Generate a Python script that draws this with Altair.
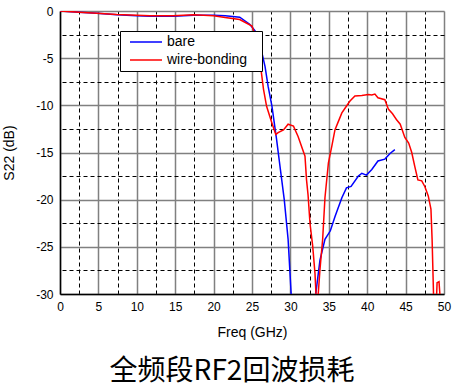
import altair as alt
import pandas as pd

series_names = ["bare", "wire-bonding"]
series_colors = ["#0000ff", "#ff0000"]

freq_bare = [0, 2.5, 4.8, 7.4, 10, 11.7, 14.75, 17.4, 20, 21.5, 23.4, 24.7, 25.4, 26.0,
             26.7, 27.1, 27.6, 28.2, 28.65, 29.2, 29.7, 30.1, 30.3, 33.1, 33.3, 33.85,
             34.5, 35.2, 35.8, 36.7, 37.3, 37.9, 38.85, 39.3, 39.9, 40.6, 41.4, 42.3,
             42.97, 43.6]
s22_bare = [0, -0.12, -0.25, -0.4, -0.5, -0.55, -0.55, -0.45, -0.45, -0.5, -0.65, -1.4,
            -2.1, -3.4, -5.9, -8.0, -10.1, -13.6, -16.5, -20, -24.2, -30, -32, -32, -30,
            -26.4, -24.2, -23.3, -21.8, -19.8, -18.75, -18.6, -17.5, -17.2, -17.4, -16.8,
            -15.9, -15.7, -15.1, -14.7]

freq_wb = [0, 2.5, 4.8, 7.4, 10, 11.7, 14.75, 17.4, 20, 21.5, 23.4, 25, 25.6, 26.0, 26.5,
           26.9, 27.6, 28.1, 28.4, 29.1, 29.7, 30.4, 31.0, 31.9, 32.1, 32.3, 32.55, 32.9,
           33.2, 33.45, 33.85, 34.2, 34.5, 34.95, 35.4, 35.8, 36.25, 36.7, 37.2, 37.76,
           38.4, 39.3, 40.15, 40.6, 41.0, 41.4, 42.3, 42.75, 43.3, 43.8, 44.3, 44.9, 45.4,
           45.8, 46.2, 46.6, 47.1, 47.5, 47.95, 48.3, 48.45, 48.7, 48.95, 49.1, 49.35,
           49.55, 49.8]
s22_wb = [0, -0.12, -0.25, -0.38, -0.45, -0.5, -0.5, -0.4, -0.5, -0.7, -0.9, -1.6, -3.0,
          -5.1, -8.3, -10.1, -11.9, -13.1, -12.9, -12.6, -12.0, -12.2, -13.3, -15.4, -17.9,
          -19.5, -22.5, -24.9, -27.8, -32, -27.4, -24.2, -19.8, -16.1, -14.3, -12.6, -11.7,
          -10.8, -10.2, -9.55, -9.0, -8.95, -8.85, -8.9, -8.8, -9.2, -9.4, -10.4, -10.9,
          -11.5, -12.0, -13.4, -14.0, -15.0, -16.5, -17.9, -18.0, -18.6, -19.6, -21.0,
          -24.2, -32, -32, -28.8, -28.7, -31, -32]

x_major = [0, 5, 10, 15, 20, 25, 30, 35, 40, 45, 50]
x_minor = [2.5, 7.5, 12.5, 17.5, 22.5, 27.5, 32.5, 37.5, 42.5, 47.5]
y_major = [-30, -25, -20, -15, -10, -5, 0]
y_minor = [-27.5, -22.5, -17.5, -12.5, -7.5, -2.5]

df = pd.concat([
    pd.DataFrame({"freq": freq_bare, "s22": s22_bare, "series": series_names[0]}),
    pd.DataFrame({"freq": freq_wb, "s22": s22_wb, "series": series_names[1]}),
], ignore_index=True)

FONT = "Liberation Sans"
xscale = alt.Scale(domain=[0, 50], nice=False, zero=False, padding=0)
yscale = alt.Scale(domain=[-30, 0], nice=False, zero=False, padding=0)

minor = alt.Chart(df).mark_line(opacity=0, clip=True).encode(
    x=alt.X("freq:Q", scale=xscale,
            axis=alt.Axis(orient="top", values=x_minor, grid=True, gridColor="black",
                          gridDash=[4, 3], gridWidth=1, labels=False, ticks=False,
                          domain=False, title=None)),
    y=alt.Y("s22:Q", scale=yscale,
            axis=alt.Axis(orient="right", values=y_minor, grid=True, gridColor="black",
                          gridDash=[4, 3], gridWidth=1, labels=False, ticks=False,
                          domain=False, title=None)),
    detail="series:N",
)

lines = alt.Chart(df).mark_line(strokeWidth=1.5, clip=True).encode(
    x=alt.X("freq:Q", scale=xscale,
            axis=alt.Axis(orient="bottom", values=x_major, grid=True, gridColor="#808080",
                          gridWidth=1.5, ticks=False, tickSize=0, domain=True,
                          domainColor="black", domainWidth=1.5, labelFont=FONT,
                          labelFontSize=12, labelColor="black", labelPadding=7,
                          labelFlush=False, labelExpr="datum.value + ''",
                          title="Freq (GHz)", titleFont=FONT, titleFontSize=14,
                          titleFontWeight="normal", titleColor="black", titlePadding=13)),
    y=alt.Y("s22:Q", scale=yscale,
            axis=alt.Axis(orient="left", values=y_major, grid=True, gridColor="#808080",
                          gridWidth=1.5, ticks=False, tickSize=0, domain=True,
                          domainColor="black", domainWidth=1.5, labelFont=FONT,
                          labelFontSize=12, labelColor="black", labelPadding=7,
                          labelFlush=False, labelExpr="datum.value + ''",
                          title="S22 (dB)", titleFont=FONT, titleFontSize=14,
                          titleFontWeight="normal", titleColor="black", titlePadding=19)),
    color=alt.Color("series:N",
                    scale=alt.Scale(domain=series_names, range=series_colors),
                    legend=alt.Legend(title=None, orient="none", legendX=60, legendY=20,
                                      symbolType="stroke", symbolSize=1024,
                                      symbolStrokeWidth=1.5, symbolOffset=5,
                                      clipHeight=14, rowPadding=4, padding=4,
                                      labelFont=FONT, labelFontSize=14,
                                      labelColor="black", labelOffset=4,
                                      fillColor="white",
                                      labelExpr="datum.label + '\u2800'",
                                      strokeColor="black", cornerRadius=0)),
)

chart = alt.layer(minor, lines).resolve_axis(
    x="independent", y="independent"
).properties(
    width=384,
    height=283,
    autosize=alt.AutoSizeParams(type="none"),
    padding={"left": 60, "top": 11, "right": 14, "bottom": 93},
    title=alt.TitleParams("全频段RF2回波损耗", orient="bottom", anchor="middle",
                          fontSize=28, font="Noto Sans CJK SC", fontWeight="normal",
                          color="black", dx=-20, offset=19),
).configure_view(stroke="black", strokeWidth=1.5).configure(background="white")

chart.save("out.html", embed_options={"renderer": "svg", "actions": False})
